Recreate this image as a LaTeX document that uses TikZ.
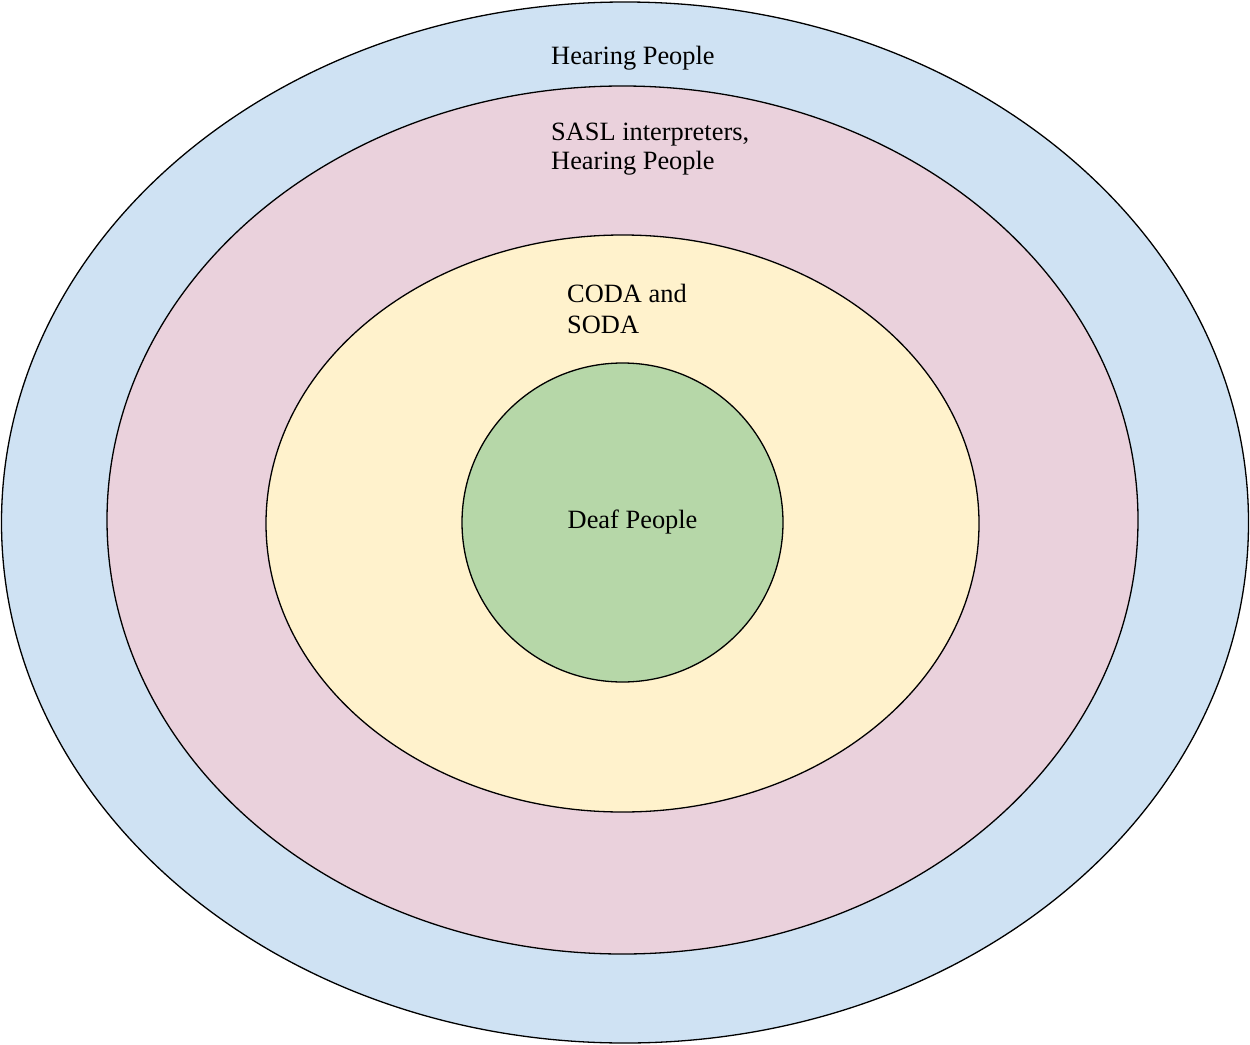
\documentclass[tikz,border=0pt]{standalone}
\usepackage{fontspec}
\setmainfont{Liberation Serif}
\definecolor{cblue}{HTML}{CFE2F3}
\definecolor{cpink}{HTML}{EAD1DC}
\definecolor{cyellow}{HTML}{FFF2CC}
\definecolor{cgreen}{HTML}{B6D7A8}
\tikzset{
  ring/.style={draw=black, line width=1.3pt},
  lbl/.style={anchor=base west, inner sep=0pt, font=\fontsize{26.4}{29.5}\selectfont, align=left}
}
\begin{document}
\begin{tikzpicture}[x=1pt,y=-1pt]
\useasboundingbox (0,0) rectangle (1250,1044);
\fill[white] (0,0) rectangle (1250,1044);
\path[ring, fill=cblue] (625,522.5) ellipse [x radius=623.5, y radius=520.5];
\path[ring, fill=cpink] (622.5,520) ellipse [x radius=515.5, y radius=434];
\path[ring, fill=cyellow] (622.5,523.5) ellipse [x radius=356.5, y radius=288.5];
\path[ring, fill=cgreen] (622.5,522.5) ellipse [x radius=160.5, y radius=159.5];
\node[lbl] (hear) at (551,64) {Hearing People};
\node[lbl] (sasl) at (551,140) {SASL interpreters,};
\node[lbl] (hear2) at (551,169) {Hearing People};
\node[lbl] (coda) at (567,302.5) {CODA and};
\node[lbl] (soda) at (567,333) {SODA};
\node[lbl] (deaf) at (567.5,528) {Deaf People};
\end{tikzpicture}
\end{document}
